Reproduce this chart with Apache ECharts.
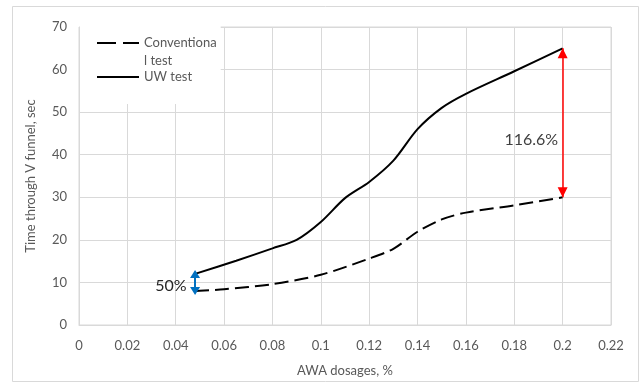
<!DOCTYPE html>
<html>
<head>
<meta charset="utf-8">
<script src="https://cdn.jsdelivr.net/npm/echarts@6/dist/echarts.min.js"></script>
<style>
  html, body { margin: 0; padding: 0; background: #fff; }
  #chart { width: 642px; height: 382px; }
</style>
</head>
<body>
<div id="chart"></div>
<script>
// Flow time through the V funnel versus AWA dosage, two test methods
const convDose = [0.048, 0.06, 0.08, 0.1, 0.12, 0.13, 0.14, 0.15, 0.16, 0.18, 0.2];
const convTime = [8, 8.4, 9.6, 11.8, 15.6, 17.9, 21.9, 24.8, 26.4, 28.1, 30];
const uwDose = [0.048, 0.065, 0.08, 0.09, 0.1, 0.11, 0.12, 0.13, 0.14, 0.15, 0.16, 0.18, 0.2];
const uwTime = [12, 15.1, 18, 20, 24.2, 29.8, 33.6, 38.6, 46, 51, 54.3, 59.6, 65];

const seriesNames = ['Conventional test', 'UW test'];
const xTicks = { min: 0, max: 0.22, step: 0.02 };
const yTicks = { min: 0, max: 70, step: 10 };

// Increase between the two methods at the lowest and highest dosage
const gapLow = { dose: 0.048, from: 8, to: 12, text: '50%' };
const gapHigh = { dose: 0.2, from: 30, to: 65, text: '116.6%' };

const pairs = (xs, ys) => xs.map((x, i) => [x, ys[i]]);

const grey = '#d9d9d9';
const textGrey = '#595959';
const font = 'Lato, "Open Sans", sans-serif';

// arrow head whose tip sits exactly on the line end
const tipHead = 'path://M5,0L5,0.01M5,10L10,20L0,20Z';

function gapArrow(g, color, head, size, width) {
  return {
    silent: true,
    symbol: [head, head],
    symbolSize: size,
    label: { show: false },
    lineStyle: { color: color, width: width, type: 'solid' },
    emphasis: { disabled: true },
    data: [[{ coord: [g.dose, g.from] }, { coord: [g.dose, g.to] }]]
  };
}

function gapLabel(g, color, size, dist, dy) {
  return {
    silent: true,
    symbol: 'rect',
    symbolSize: 1,
    itemStyle: { color: 'rgba(0,0,0,0)' },
    label: {
      show: true,
      position: 'left',
      distance: dist,
      offset: [0, dy],
      formatter: g.text,
      color: color,
      fontSize: size,
      fontFamily: font
    },
    data: [{ coord: [g.dose, (g.from + g.to) / 2] }]
  };
}

const chart = echarts.init(document.getElementById('chart'), null, { renderer: 'canvas' });

chart.setOption({
  backgroundColor: '#fff',
  animation: false,
  textStyle: { fontFamily: font },
  graphic: [{
    type: 'rect',
    shape: { x: 12.5, y: 6.5, width: 626, height: 375 },
    style: { fill: 'none', stroke: grey, lineWidth: 1 },
    silent: true,
    z: -1
  }],
  grid: { left: 79, right: 31, top: 27, bottom: 55, containLabel: false,
          show: true, borderColor: grey, borderWidth: 1 },
  legend: {
    orient: 'vertical',
    left: 80,
    top: 16,
    padding: [0, 4, 18, 16],
    backgroundColor: '#fff',
    itemWidth: 42,
    itemHeight: 12,
    itemGap: -2,
    itemStyle: { color: 'rgba(0,0,0,0)', borderWidth: 0 },
    formatter: n => n === seriesNames[0] ? ' \nConventiona\nl test' : n,
    textStyle: { color: textGrey, fontSize: 13, lineHeight: 18, fontFamily: font },
    data: [
      { name: seriesNames[0], lineStyle: { type: [19, 7], width: 2 } },
      { name: seriesNames[1] }
    ]
  },
  xAxis: {
    type: 'value',
    min: xTicks.min, max: xTicks.max, interval: xTicks.step,
    name: 'AWA dosages, %',
    nameLocation: 'middle',
    nameGap: 39,
    nameTextStyle: { color: textGrey, fontSize: 13, fontFamily: font },
    axisLine: { show: true, lineStyle: { color: grey } },
    axisTick: { show: false },
    axisLabel: { color: textGrey, fontSize: 13, margin: 14, fontFamily: font,
                 formatter: v => String(+v.toFixed(2)) },
    splitLine: { show: true, lineStyle: { color: grey, width: 1 } }
  },
  yAxis: {
    type: 'value',
    min: yTicks.min, max: yTicks.max, interval: yTicks.step,
    name: 'Time through V funnel, sec',
    nameLocation: 'middle',
    nameGap: 42,
    nameTextStyle: { color: textGrey, fontSize: 13, fontFamily: font },
    axisLine: { show: false },
    axisTick: { show: false },
    axisLabel: { color: textGrey, fontSize: 13, margin: 12, fontFamily: font },
    splitLine: { show: true, lineStyle: { color: grey, width: 1 } }
  },
  series: [
    {
      name: seriesNames[0],
      type: 'line',
      data: pairs(convDose, convTime),
      smooth: 0.3,
      symbol: 'none',
      lineStyle: { color: '#000', width: 2, type: [14, 6] },
      itemStyle: { color: '#000' },
      z: 3,
      markLine: gapArrow(gapHigh, '#ff0000', tipHead, [10, 20], 1.5),
      markPoint: gapLabel(gapHigh, '#404040', 16, 4, 17)
    },
    {
      name: seriesNames[1],
      type: 'line',
      data: pairs(uwDose, uwTime),
      smooth: 0.3,
      symbol: 'none',
      lineStyle: { color: '#000', width: 2, type: 'solid' },
      itemStyle: { color: '#000' },
      z: 3,
      markLine: gapArrow(gapLow, '#0070c0', 'triangle', [10, 8], 2),
      markPoint: gapLabel(gapLow, '#262626', 16, 8, 3)
    }
  ]
});
</script>
</body>
</html>
